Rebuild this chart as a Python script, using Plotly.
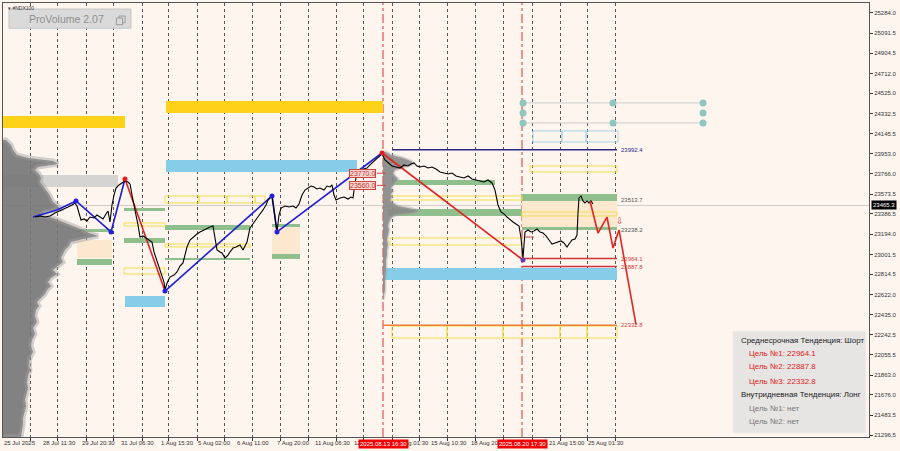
import plotly.graph_objects as go

# ---------------- DATA ----------------
price_bar = [35, 40, 45, 50, 55, 60, 65, 68, 72, 75,
             77, 79, 81, 84, 87, 90, 94, 97, 100, 103,
             106, 108, 110, 112, 114, 116, 119, 122, 125, 128,
             130, 132, 134, 136, 138, 140, 143, 146, 149, 152,
             154, 156, 158, 160, 162, 164, 165, 167, 170, 174,
             177, 180, 183, 185, 187, 190, 193, 197, 200, 204,
             207, 210, 213, 215, 217, 220, 222, 225, 228, 230,
             233, 236, 240, 243, 245, 247, 250, 254, 257, 260,
             263, 266, 268, 270, 272, 274, 276, 277, 279, 281,
             285, 289, 293, 296, 299, 302, 305, 308, 311, 314,
             317, 320, 324, 327, 330, 332, 334, 336, 340, 344,
             348, 351, 353, 355, 357, 360, 364, 367, 370, 373,
             376, 379, 382, 385, 388, 392, 396, 400, 404, 408,
             411, 414, 417, 420, 424, 428, 432, 436, 440, 444,
             448, 452, 456, 460, 464, 468, 472, 476, 480, 484,
             488, 492, 495, 498, 501, 504, 507, 510, 513, 516,
             519, 521, 523, 525, 528, 531, 534, 537, 540, 543,
             546, 549, 552, 555, 558, 561, 564, 567, 569, 572,
             575, 577, 578, 579, 581, 583, 585, 587, 589, 591,
             593]
price_val = [23356, 23366, 23356, 23366, 23394, 23413, 23432, 23451, 23470, 23489,
             23460, 23385, 23328, 23338, 23319, 23356, 23347, 23375, 23356, 23338,
             23385, 23413, 23309, 23470, 23564, 23630, 23659, 23678, 23697, 23687,
             23668, 23564, 23451, 23375, 23281, 23167, 23177, 23158, 23139, 23120,
             23026, 22969, 22931, 22874, 22808, 22742, 22667, 22733, 22789, 22808,
             22837, 22893, 22922, 22997, 23073, 23139, 23167, 23196, 23215, 23234,
             23252, 23262, 23271, 23158, 23045, 23026, 23016, 22969, 22997, 23026,
             23063, 23073, 23092, 23045, 23082, 23120, 23252, 23309, 23347, 23385,
             23423, 23470, 23517, 23536, 23555, 23423, 23281, 23215, 23375, 23441,
             23460, 23451, 23460, 23441, 23479, 23564, 23611, 23630, 23649, 23640,
             23621, 23630, 23611, 23649, 23640, 23659, 23564, 23517, 23536, 23545,
             23526, 23545, 23536, 23678, 23772, 23800, 23810, 23819, 23848, 23876,
             23904, 23923, 23952, 23895, 23867, 23838, 23829, 23819, 23848, 23838,
             23857, 23867, 23838, 23829, 23838, 23819, 23829, 23810, 23782, 23772,
             23763, 23772, 23744, 23734, 23725, 23744, 23715, 23706, 23697, 23687,
             23706, 23678, 23611, 23470, 23404, 23385, 23356, 23328, 23309, 23290,
             23271, 23158, 22969, 23215, 23234, 23215, 23224, 23243, 23215, 23205,
             23177, 23139, 23101, 23111, 23120, 23130, 23111, 23073, 23101, 23139,
             23148, 23186, 23394, 23536, 23555, 23508, 23489, 23508, 23489, 23508,
             23479]
current_price = 23465.3

zz_bar = [33, 57, 76, 111, 125, 165, 272, 277, 382, 523]
zz_val = [23356, 23423, 23508, 23215, 23715, 22657, 23555, 23215, 23961, 22950]
zz_red_legs = [4, 8]
zz_dot_idx = [2, 3, 4, 5, 6, 7, 8, 9]
zz_dot_kind = ["blue", "blue", "red", "blue", "blue", "blue", "red", "purple"]

proj_bar = [590, 598, 607, 613, 619, 636]
proj_val = [23508, 23205, 23356, 23063, 23234, 22340]

# volume profiles (price bins, width in bars)
vp_left_price = [24084, 24037, 23989, 23942, 23914, 23885, 23857, 23829, 23800, 23763,
                 23725, 23687, 23649, 23611, 23574, 23536, 23498, 23460, 23432, 23404,
                 23375, 23347, 23319, 23290, 23262, 23234, 23205, 23177, 23148, 23120,
                 23082, 23045, 23007, 22969, 22931, 22893, 22856, 22818, 22780, 22742,
                 22704, 22667, 22629, 22591, 22553, 22515, 22477, 22421, 22364, 22308,
                 22251, 22194, 22138, 22081, 22024, 21967, 21911, 21854, 21797, 21741,
                 21684, 21627, 21571, 21514, 21457, 21400, 21344, 21278]
vp_left_vol = [3, 8, 10, 14, 25, 50, 55, 35, 32, 36,
               38, 37, 40, 44, 46, 48, 50, 55, 57, 42,
               38, 50, 58, 64, 72, 80, 86, 95, 80, 68,
               66, 62, 60, 58, 60, 55, 50, 54, 48, 45,
               48, 44, 42, 38, 34, 36, 33, 32, 34, 30,
               32, 29, 28, 30, 27, 26, 27, 25, 24, 25,
               23, 22, 23, 21, 20, 20, 19, 18]
vp_right_price = [23970, 23942, 23914, 23885, 23867, 23848, 23829, 23800, 23772, 23744,
                  23715, 23687, 23659, 23630, 23602, 23574, 23545, 23517, 23489, 23460,
                  23432, 23413, 23394, 23375, 23347, 23309, 23271, 23234, 23186, 23139,
                  23092, 23045, 22997, 22950, 22856, 22761, 22667, 22572]
vp_right_vol = [3, 8, 20, 28, 30, 28, 22, 12, 10, 12,
                15, 12, 10, 8, 10, 8, 9, 7, 10, 15,
                30, 36, 30, 12, 8, 6, 5, 6, 5, 4,
                5, 4, 4, 3, 3, 2, 2, 0]
vp_left_base = 3
vp_right_base = 383

# zones: (bar_from, bar_to, price_high, price_low)
gold_zones = [(3, 125, 24311, 24197), (166, 383, 24452, 24339)]
sky_zones = [(166, 357, 23895, 23782), (125, 165, 22610, 22506), (383, 617, 22874, 22761)]
gray_zones = [(3, 118, 23753, 23640)]
green_zones = [(77, 112, 23243, 23215), (77, 112, 22960, 22903), (124, 165, 23441, 23413),
               (124, 165, 23158, 23111), (165, 250, 23281, 23234), (165, 250, 22969, 22950),
               (272, 300, 23290, 23262), (272, 300, 23007, 22960), (392, 495, 23706, 23659),
               (388, 522, 23432, 23366), (522, 617, 23574, 23508), (522, 617, 23262, 23234)]
peach_zones = [(77, 112, 23139, 22969), (272, 300, 23262, 23007), (522, 617, 23508, 23262)]
yellow_boxes = [(124, 165, 23300, 23271), (124, 165, 22874, 22818),
                (165, 199, 23555, 23489), (199, 227, 23555, 23489), (227, 255, 23555, 23489),
                (255, 265, 23555, 23489), (165, 250, 23101, 23073),
                (383, 522, 23555, 23517), (390, 522, 23158, 23092),
                (522, 617, 23404, 23366), (530, 617, 23838, 23782),
                (392, 447, 22326, 22213), (447, 503, 22326, 22213), (503, 560, 22326, 22213),
                (560, 587, 22326, 22213), (587, 617, 22326, 22213)]
sky_boxes = [(533, 562, 24169, 24065), (562, 586, 24169, 24065), (586, 618, 24169, 24065)]

# target circles
circ_bar = [523, 523, 523, 613, 613, 703, 703, 703]
circ_val = [24434, 24339, 24245, 24434, 24245, 24434, 24339, 24245]
circ_line_val = [24434, 24245]

# right-hand levels
level_val = [23992.4, 23513.7, 23238.2, 22964.1, 22887.8, 22332.8]
level_from = [392, 522, 522, 522, 522, 383]
level_to = 617
level_kind = ["res", "zone", "zone", "tgt", "tgt", "tgt2"]

alert_val = [23770.0, 23560.0]
alert_pos = [23770, 23655]

event_bars = [383, 522]
event_txt = ["2025.08.13 16:30", "2025.08.20 17:30"]
day_sep = [30, 57, 86, 113, 142, 168, 197, 224, 252, 280, 308, 336, 363, 392, 419,
           447, 475, 503, 532, 560, 587, 615]

y_ticks = [25284.0, 25091.5, 24904.5, 24712.0, 24525.0, 24332.5, 24145.5, 23953.0, 23766.0,
           23573.5, 23386.5, 23194.0, 23001.5, 22814.5, 22622.0, 22435.0, 22242.5, 22055.5,
           21863.0, 21676.0, 21483.5, 21296.5]
time_label_bar = [3, 42, 81, 120, 160, 197, 236, 276, 314, 353, 392, 430, 470, 548, 587]
time_label_txt = ["25 Jul 2025", "28 Jul 11:30", "29 Jul 20:30", "31 Jul 06:30", "1 Aug 15:30",
                  "5 Aug 02:00", "6 Aug 11:00", "7 Aug 20:00", "11 Aug 06:30", "12 Aug 16:00",
                  "14 Aug 01:30", "15 Aug 10:30", "18 Aug 20:00", "21 Aug 15:00", "25 Aug 01:30"]

info_lines = ["Среднесрочная Тенденция: Шорт", "Цель №1: 22964.1", "Цель №2: 22887.8",
              "Цель №3: 22332.8", "Внутридневная Тенденция: Лонг", "Цель №1: нет", "Цель №2: нет"]
info_kind = ["head", "red", "red", "red", "head", "gray", "gray"]

# ---------------- STYLE ----------------
BG = "#FDF5EE"
FONT = "Liberation Sans"
X_RANGE = [3, 869]
Y_RANGE = [21278, 25378]

fig = go.Figure()
shapes = []
annots = []


def rect(z, fill, line=None, lw=0, layer="between"):
    x0, x1, hi, lo = z
    shapes.append(dict(type="rect", xref="x", yref="y", x0=x0, x1=x1, y0=lo, y1=hi,
                       fillcolor=fill, line=dict(color=line or fill, width=lw), layer=layer))


for z in gold_zones:
    rect(z, "#FFD21A")
for z in sky_zones:
    rect(z, "#86CDEA")
for z in gray_zones:
    rect(z, "#D6D4D2")
for z in peach_zones:
    rect(z, "#FBE8CF")
for z in green_zones:
    rect(z, "#8FBF8C")
for z in yellow_boxes:
    rect(z, "rgba(0,0,0,0)", "#F2DF4A", 1)
for z in sky_boxes:
    rect(z, "rgba(0,0,0,0)", "#A6D6E6", 1)

shapes.append(dict(type="line", xref="paper", yref="y", x0=0, x1=1, y0=current_price,
                   y1=current_price, line=dict(color="#CFCBC8", width=1), layer="between"))
for v in circ_line_val:
    shapes.append(dict(type="line", xref="x", yref="y", x0=circ_bar[0], x1=circ_bar[-1], y0=v,
                       y1=v, line=dict(color="#CFCFCF", width=1), layer="between"))
for b in event_bars:
    shapes.append(dict(type="line", xref="x", yref="paper", x0=b, x1=b, y0=0, y1=1,
                       line=dict(color="#E03030", width=1, dash="dashdot"), layer="between"))

lvl_style = {"res": ("#2A2A85", 1.5), "tgt": ("#D03535", 1.5), "tgt2": ("#E8803A", 1.5)}
lvl_txt_col = {"res": "#2A2A85", "zone": "#555555", "tgt": "#D84040", "tgt2": "#D84040"}
for v, f, k in zip(level_val, level_from, level_kind):
    if k in lvl_style:
        c, w = lvl_style[k]
        shapes.append(dict(type="line", xref="x", yref="y", x0=f, x1=level_to, y0=v, y1=v,
                           line=dict(color=c, width=w), layer="between"))
    annots.append(dict(x=level_to + 2, y=v, xref="x", yref="y", text=f"{v:.1f}",
                       showarrow=False, xanchor="left", yanchor="middle",
                       font=dict(family=FONT, size=6, color=lvl_txt_col[k])))

for t, p in zip(alert_val, alert_pos):
    shapes.append(dict(type="line", xref="x", yref="y", x0=377, x1=386, y0=p, y1=p,
                       line=dict(color="#D04040", width=1), layer="above"))
    annots.append(dict(x=362, y=p, xref="x", yref="y", text=f"{t:.1f}", showarrow=False,
                       xanchor="center", yanchor="middle", bgcolor="#F6D6CF",
                       bordercolor="#D04040", borderwidth=1, borderpad=0,
                       font=dict(family=FONT, size=7, color="#C83030")))

# ---- traces ----
fig.add_trace(go.Scatter(
    x=[vp_left_base] + [vp_left_base + w for w in vp_left_vol] + [vp_left_base],
    y=[vp_left_price[0]] + vp_left_price + [vp_left_price[-1]],
    fill="toself", fillcolor="rgba(118,118,118,0.9)", mode="lines",
    line=dict(color="rgba(160,160,160,0.45)", width=5), hoverinfo="skip"))
fig.add_trace(go.Scatter(
    x=[vp_right_base] + [vp_right_base + w for w in vp_right_vol] + [vp_right_base],
    y=[vp_right_price[0]] + vp_right_price + [vp_right_price[-1]],
    fill="toself", fillcolor="rgba(135,135,135,0.9)", mode="lines",
    line=dict(color="rgba(160,160,160,0.4)", width=3), hoverinfo="skip"))

for i in range(len(zz_bar) - 1):
    col = "#E02424" if i in zz_red_legs else "#1F1FD6"
    fig.add_trace(go.Scatter(x=zz_bar[i:i + 2], y=zz_val[i:i + 2], mode="lines",
                             line=dict(color=col, width=1.6), hoverinfo="skip"))

fig.add_trace(go.Scatter(x=price_bar, y=price_val, mode="lines",
                         line=dict(color="#000000", width=1.1), hoverinfo="skip"))

fig.add_trace(go.Scatter(x=proj_bar, y=proj_val, mode="lines",
                         line=dict(color="#E02424", width=1.6), hoverinfo="skip"))
shapes.append(dict(type="line", xref="x", yref="y", x0=525, x1=544, y0=23167, y1=23167,
                   line=dict(color="#C04040", width=1, dash="dash"), layer="above"))

dot_col = {"blue": "#2020E0", "red": "#E02020", "purple": "#6A3AB0"}
fig.add_trace(go.Scatter(x=[zz_bar[i] for i in zz_dot_idx], y=[zz_val[i] for i in zz_dot_idx],
                         mode="markers",
                         marker=dict(size=5, color=[dot_col[k] for k in zz_dot_kind]),
                         hoverinfo="skip"))
fig.add_trace(go.Scatter(x=circ_bar, y=circ_val, mode="markers",
                         marker=dict(size=7, color="#8FC7BE"), hoverinfo="skip"))

annots.append(dict(x=620, y=23319, xref="x", yref="y", text="⇩", showarrow=False,
                   font=dict(family="DejaVu Sans", size=9, color="#E04040")))

for b, t in zip(time_label_bar, time_label_txt):
    annots.append(dict(x=b, y=0, xref="x", yref="paper", text=t, showarrow=False,
                       xanchor="left", yanchor="top", yshift=-2, borderpad=0,
                       font=dict(family=FONT, size=6, color="#333333")))
for b, t in zip(event_bars, event_txt):
    annots.append(dict(x=b, y=0, xref="x", yref="paper", text=t, showarrow=False,
                       xanchor="center", yanchor="top", yshift=-2, borderpad=1,
                       bgcolor="#F00000", font=dict(family=FONT, size=6, color="#FFFFFF")))

annots.append(dict(x=1, y=current_price, xref="paper", yref="y", text=f"{current_price:.1f}",
                   showarrow=False, xanchor="left", yanchor="middle", xshift=2,
                   bgcolor="#000000", borderpad=1,
                   font=dict(family=FONT, size=6, color="#FFFFFF")))

# ---- ProVolume badge ----
shapes.append(dict(type="rect", xref="paper", yref="paper", x0=0.0069, x1=0.1478,
                   y0=0.942, y1=0.986, fillcolor="#DADADA",
                   line=dict(color="#C4C4C4", width=1), layer="above"))
shapes.append(dict(type="rect", xref="paper", yref="paper", x0=0.1340, x1=0.1410,
                   y0=0.9545, y1=0.970, fillcolor="#DADADA",
                   line=dict(color="#9A9A9A", width=1), layer="above"))
shapes.append(dict(type="rect", xref="paper", yref="paper", x0=0.1310, x1=0.1380,
                   y0=0.9500, y1=0.9655, fillcolor="#DADADA",
                   line=dict(color="#9A9A9A", width=1), layer="above"))
annots.append(dict(x=0.0275, y=0.964, xref="paper", yref="paper", text="ProVolume 2.07",
                   showarrow=False, xanchor="left", yanchor="middle",
                   font=dict(family=FONT, size=10.5, color="#8E8E8E")))
annots.append(dict(x=0.004, y=0.999, xref="paper", yref="paper", text="▾ #NDX100",
                   showarrow=False, xanchor="left", yanchor="top",
                   font=dict(family=FONT, size=5, color="#333333")))

# ---- info box ----
shapes.append(dict(type="rect", xref="paper", yref="paper", x0=0.843, x1=0.9965,
                   y0=0.009, y1=0.244, fillcolor="#E6E5E4",
                   line=dict(color="#F2EEEA", width=1), layer="above"))
info_y = [0.2235, 0.1935, 0.1613, 0.1290, 0.0968, 0.0668, 0.0346]
info_col = {"head": "#1A1A1A", "red": "#E02020", "gray": "#777777"}
for t, k, yy in zip(info_lines, info_kind, info_y):
    annots.append(dict(x=0.8495 if k == "head" else 0.8588, y=yy, xref="paper", yref="paper",
                       text=t, showarrow=False, xanchor="left", yanchor="middle",
                       font=dict(family=FONT, size=7.9, color=info_col[k])))

fig.update_layout(
    width=900, height=451, margin=dict(l=3, r=31, t=3, b=14),
    paper_bgcolor=BG, plot_bgcolor=BG, showlegend=False,
    shapes=shapes, annotations=annots,
    xaxis=dict(range=X_RANGE, tickvals=day_sep, showticklabels=False, ticks="outside",
               ticklen=3, tickcolor="#333", showgrid=True, gridcolor="#555555",
               griddash="dot", gridwidth=1, zeroline=False, showline=True, mirror=True,
               linecolor="#555555", linewidth=1),
    yaxis=dict(range=Y_RANGE, side="right", tickvals=y_ticks,
               ticktext=[f"{v:.1f}" for v in y_ticks], ticks="outside", ticklen=3,
               tickcolor="#333", tickfont=dict(family=FONT, size=6, color="#333333"),
               showgrid=False, zeroline=False, showline=True, mirror=True,
               linecolor="#555555", linewidth=1),
)

fig.write_html("out.html", config={"displayModeBar": False},
               post_script="document.body.style.margin='0px';document.body.style.background='#FDF5EE';")
